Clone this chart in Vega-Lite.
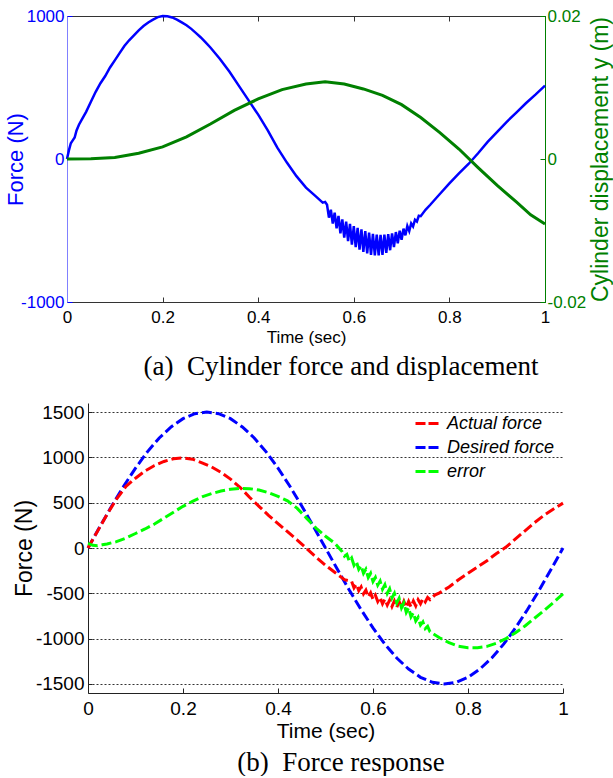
{
  "$schema": "https://vega.github.io/schema/vega-lite/v6.json",
  "background": "white",
  "padding": {"left": 4, "right": 0, "top": 6, "bottom": 0},
  "config": {"font": "Liberation Sans", "view": {"stroke": null}},
  "datasets": {
    "topForce": [
      {"t": 0, "F": 0}, {"t": 0.004, "F": 60}, {"t": 0.008, "F": 110}, {"t": 0.012, "F": 130}, {"t": 0.016, "F": 150},
      {"t": 0.02, "F": 200}, {"t": 0.025, "F": 240}, {"t": 0.03, "F": 270}, {"t": 0.04, "F": 330}, {"t": 0.05, "F": 400},
      {"t": 0.06, "F": 470}, {"t": 0.07, "F": 530}, {"t": 0.08, "F": 580}, {"t": 0.09, "F": 640}, {"t": 0.1, "F": 690},
      {"t": 0.11, "F": 740}, {"t": 0.12, "F": 790}, {"t": 0.13, "F": 830}, {"t": 0.14, "F": 865}, {"t": 0.15, "F": 900},
      {"t": 0.16, "F": 930}, {"t": 0.17, "F": 955}, {"t": 0.18, "F": 975}, {"t": 0.19, "F": 992}, {"t": 0.2, "F": 1000},
      {"t": 0.21, "F": 998}, {"t": 0.22, "F": 990}, {"t": 0.23, "F": 975}, {"t": 0.24, "F": 955}, {"t": 0.25, "F": 935},
      {"t": 0.26, "F": 910}, {"t": 0.27, "F": 880}, {"t": 0.28, "F": 850}, {"t": 0.29, "F": 815}, {"t": 0.3, "F": 780},
      {"t": 0.32, "F": 700}, {"t": 0.34, "F": 610}, {"t": 0.36, "F": 510}, {"t": 0.38, "F": 410}, {"t": 0.4, "F": 310},
      {"t": 0.42, "F": 200}, {"t": 0.44, "F": 80}, {"t": 0.46, "F": -25}, {"t": 0.48, "F": -120}, {"t": 0.5, "F": -200},
      {"t": 0.52, "F": -260}, {"t": 0.535, "F": -305}, {"t": 0.54, "F": -300},
      {"t": 0.544, "F": -320}, {"t": 0.548, "F": -410}, {"t": 0.552, "F": -355}, {"t": 0.556, "F": -452}, {"t": 0.56, "F": -375},
      {"t": 0.564, "F": -485}, {"t": 0.568, "F": -398}, {"t": 0.572, "F": -520}, {"t": 0.576, "F": -422}, {"t": 0.58, "F": -550},
      {"t": 0.584, "F": -438}, {"t": 0.588, "F": -574}, {"t": 0.592, "F": -454}, {"t": 0.596, "F": -598}, {"t": 0.6, "F": -470},
      {"t": 0.604, "F": -617}, {"t": 0.608, "F": -481}, {"t": 0.612, "F": -633}, {"t": 0.616, "F": -492}, {"t": 0.62, "F": -650},
      {"t": 0.624, "F": -505}, {"t": 0.628, "F": -660}, {"t": 0.632, "F": -515}, {"t": 0.636, "F": -670}, {"t": 0.64, "F": -523},
      {"t": 0.644, "F": -674}, {"t": 0.648, "F": -528}, {"t": 0.652, "F": -674}, {"t": 0.656, "F": -530}, {"t": 0.66, "F": -670},
      {"t": 0.664, "F": -529}, {"t": 0.668, "F": -656}, {"t": 0.672, "F": -526}, {"t": 0.676, "F": -638}, {"t": 0.68, "F": -520},
      {"t": 0.684, "F": -616}, {"t": 0.688, "F": -511}, {"t": 0.692, "F": -590}, {"t": 0.696, "F": -501}, {"t": 0.7, "F": -565},
      {"t": 0.704, "F": -487}, {"t": 0.708, "F": -534}, {"t": 0.712, "F": -469}, {"t": 0.716, "F": -504}, {"t": 0.72, "F": -450},
      {"t": 0.724, "F": -472}, {"t": 0.728, "F": -425}, {"t": 0.732, "F": -437}, {"t": 0.736, "F": -397}, {"t": 0.74, "F": -400},
      {"t": 0.75, "F": -355}, {"t": 0.76, "F": -320}, {"t": 0.78, "F": -245}, {"t": 0.8, "F": -170}, {"t": 0.82, "F": -100},
      {"t": 0.84, "F": -35}, {"t": 0.86, "F": 40}, {"t": 0.88, "F": 120}, {"t": 0.9, "F": 190}, {"t": 0.92, "F": 260},
      {"t": 0.94, "F": 325}, {"t": 0.96, "F": 390}, {"t": 0.98, "F": 450}, {"t": 1.0, "F": 513}
    ],
    "topDisp": [
      {"t": 0, "y": 0}, {"t": 0.05, "y": 0.00003}, {"t": 0.1, "y": 0.0002}, {"t": 0.15, "y": 0.0008}, {"t": 0.2, "y": 0.0017},
      {"t": 0.25, "y": 0.0031}, {"t": 0.3, "y": 0.0049}, {"t": 0.35, "y": 0.0068}, {"t": 0.4, "y": 0.0084}, {"t": 0.45, "y": 0.0097},
      {"t": 0.5, "y": 0.0105}, {"t": 0.54, "y": 0.0108}, {"t": 0.58, "y": 0.0105}, {"t": 0.62, "y": 0.0098}, {"t": 0.66, "y": 0.0089},
      {"t": 0.7, "y": 0.0076}, {"t": 0.74, "y": 0.0058}, {"t": 0.78, "y": 0.0037}, {"t": 0.82, "y": 0.0014}, {"t": 0.86, "y": -0.0012},
      {"t": 0.9, "y": -0.0037}, {"t": 0.94, "y": -0.006}, {"t": 0.97, "y": -0.0078}, {"t": 1.0, "y": -0.0091}
    ],
    "bottom": [
      {"s": "Desired force", "t": 0, "v": 0}, {"s": "Desired force", "t": 0.025, "v": 235}, {"s": "Desired force", "t": 0.05, "v": 464},
      {"s": "Desired force", "t": 0.075, "v": 681}, {"s": "Desired force", "t": 0.1, "v": 882}, {"s": "Desired force", "t": 0.125, "v": 1061},
      {"s": "Desired force", "t": 0.15, "v": 1214}, {"s": "Desired force", "t": 0.175, "v": 1336}, {"s": "Desired force", "t": 0.2, "v": 1427},
      {"s": "Desired force", "t": 0.225, "v": 1482}, {"s": "Desired force", "t": 0.25, "v": 1500}, {"s": "Desired force", "t": 0.275, "v": 1482},
      {"s": "Desired force", "t": 0.3, "v": 1427}, {"s": "Desired force", "t": 0.325, "v": 1336}, {"s": "Desired force", "t": 0.35, "v": 1214},
      {"s": "Desired force", "t": 0.375, "v": 1061}, {"s": "Desired force", "t": 0.4, "v": 882}, {"s": "Desired force", "t": 0.425, "v": 681},
      {"s": "Desired force", "t": 0.45, "v": 464}, {"s": "Desired force", "t": 0.475, "v": 235}, {"s": "Desired force", "t": 0.5, "v": 0},
      {"s": "Desired force", "t": 0.525, "v": -235}, {"s": "Desired force", "t": 0.55, "v": -464}, {"s": "Desired force", "t": 0.575, "v": -681},
      {"s": "Desired force", "t": 0.6, "v": -882}, {"s": "Desired force", "t": 0.625, "v": -1061}, {"s": "Desired force", "t": 0.65, "v": -1214},
      {"s": "Desired force", "t": 0.675, "v": -1336}, {"s": "Desired force", "t": 0.7, "v": -1427}, {"s": "Desired force", "t": 0.725, "v": -1482},
      {"s": "Desired force", "t": 0.75, "v": -1500}, {"s": "Desired force", "t": 0.775, "v": -1482}, {"s": "Desired force", "t": 0.8, "v": -1427},
      {"s": "Desired force", "t": 0.825, "v": -1336}, {"s": "Desired force", "t": 0.85, "v": -1214}, {"s": "Desired force", "t": 0.875, "v": -1061},
      {"s": "Desired force", "t": 0.9, "v": -882}, {"s": "Desired force", "t": 0.925, "v": -681}, {"s": "Desired force", "t": 0.95, "v": -464},
      {"s": "Desired force", "t": 0.975, "v": -235}, {"s": "Desired force", "t": 1.0, "v": 0},

      {"s": "Actual force", "t": 0, "v": 0}, {"s": "Actual force", "t": 0.02, "v": 185}, {"s": "Actual force", "t": 0.04, "v": 370},
      {"s": "Actual force", "t": 0.06, "v": 540}, {"s": "Actual force", "t": 0.08, "v": 680}, {"s": "Actual force", "t": 0.1, "v": 770},
      {"s": "Actual force", "t": 0.12, "v": 850}, {"s": "Actual force", "t": 0.14, "v": 910}, {"s": "Actual force", "t": 0.16, "v": 955},
      {"s": "Actual force", "t": 0.18, "v": 985}, {"s": "Actual force", "t": 0.2, "v": 995}, {"s": "Actual force", "t": 0.22, "v": 980},
      {"s": "Actual force", "t": 0.24, "v": 940}, {"s": "Actual force", "t": 0.26, "v": 895}, {"s": "Actual force", "t": 0.28, "v": 835},
      {"s": "Actual force", "t": 0.3, "v": 760}, {"s": "Actual force", "t": 0.32, "v": 670}, {"s": "Actual force", "t": 0.34, "v": 560},
      {"s": "Actual force", "t": 0.36, "v": 460}, {"s": "Actual force", "t": 0.38, "v": 360}, {"s": "Actual force", "t": 0.4, "v": 270},
      {"s": "Actual force", "t": 0.42, "v": 180}, {"s": "Actual force", "t": 0.44, "v": 90}, {"s": "Actual force", "t": 0.46, "v": -5},
      {"s": "Actual force", "t": 0.48, "v": -100}, {"s": "Actual force", "t": 0.5, "v": -190}, {"s": "Actual force", "t": 0.52, "v": -270},
      {"s": "Actual force", "t": 0.54, "v": -350}, {"s": "Actual force", "t": 0.555, "v": -370}, {"s": "Actual force", "t": 0.56, "v": -440},
      {"s": "Actual force", "t": 0.565, "v": -400}, {"s": "Actual force", "t": 0.57, "v": -470}, {"s": "Actual force", "t": 0.575, "v": -430},
      {"s": "Actual force", "t": 0.58, "v": -505}, {"s": "Actual force", "t": 0.585, "v": -465}, {"s": "Actual force", "t": 0.59, "v": -540},
      {"s": "Actual force", "t": 0.595, "v": -495}, {"s": "Actual force", "t": 0.6, "v": -565}, {"s": "Actual force", "t": 0.605, "v": -520},
      {"s": "Actual force", "t": 0.61, "v": -590}, {"s": "Actual force", "t": 0.615, "v": -545}, {"s": "Actual force", "t": 0.62, "v": -615},
      {"s": "Actual force", "t": 0.625, "v": -565}, {"s": "Actual force", "t": 0.63, "v": -630}, {"s": "Actual force", "t": 0.635, "v": -575},
      {"s": "Actual force", "t": 0.64, "v": -645}, {"s": "Actual force", "t": 0.645, "v": -585}, {"s": "Actual force", "t": 0.65, "v": -655},
      {"s": "Actual force", "t": 0.655, "v": -590}, {"s": "Actual force", "t": 0.66, "v": -660}, {"s": "Actual force", "t": 0.665, "v": -590},
      {"s": "Actual force", "t": 0.67, "v": -655}, {"s": "Actual force", "t": 0.675, "v": -590}, {"s": "Actual force", "t": 0.68, "v": -650},
      {"s": "Actual force", "t": 0.685, "v": -585}, {"s": "Actual force", "t": 0.69, "v": -640}, {"s": "Actual force", "t": 0.695, "v": -570},
      {"s": "Actual force", "t": 0.7, "v": -615}, {"s": "Actual force", "t": 0.705, "v": -560}, {"s": "Actual force", "t": 0.71, "v": -595},
      {"s": "Actual force", "t": 0.715, "v": -545}, {"s": "Actual force", "t": 0.72, "v": -570}, {"s": "Actual force", "t": 0.73, "v": -520},
      {"s": "Actual force", "t": 0.74, "v": -495}, {"s": "Actual force", "t": 0.76, "v": -430}, {"s": "Actual force", "t": 0.78, "v": -350},
      {"s": "Actual force", "t": 0.8, "v": -280}, {"s": "Actual force", "t": 0.82, "v": -210}, {"s": "Actual force", "t": 0.84, "v": -140},
      {"s": "Actual force", "t": 0.86, "v": -60}, {"s": "Actual force", "t": 0.88, "v": 10}, {"s": "Actual force", "t": 0.9, "v": 100},
      {"s": "Actual force", "t": 0.92, "v": 190}, {"s": "Actual force", "t": 0.94, "v": 280}, {"s": "Actual force", "t": 0.96, "v": 360},
      {"s": "Actual force", "t": 0.98, "v": 430}, {"s": "Actual force", "t": 1.0, "v": 495},

      {"s": "error", "t": 0, "v": 50}, {"s": "error", "t": 0.01, "v": 30}, {"s": "error", "t": 0.02, "v": 25}, {"s": "error", "t": 0.03, "v": 35},
      {"s": "error", "t": 0.04, "v": 45}, {"s": "error", "t": 0.06, "v": 70}, {"s": "error", "t": 0.08, "v": 110}, {"s": "error", "t": 0.1, "v": 160},
      {"s": "error", "t": 0.12, "v": 210}, {"s": "error", "t": 0.14, "v": 265}, {"s": "error", "t": 0.16, "v": 330}, {"s": "error", "t": 0.18, "v": 395},
      {"s": "error", "t": 0.2, "v": 460}, {"s": "error", "t": 0.22, "v": 515}, {"s": "error", "t": 0.24, "v": 565}, {"s": "error", "t": 0.26, "v": 600},
      {"s": "error", "t": 0.28, "v": 628}, {"s": "error", "t": 0.3, "v": 648}, {"s": "error", "t": 0.32, "v": 658}, {"s": "error", "t": 0.34, "v": 655},
      {"s": "error", "t": 0.36, "v": 640}, {"s": "error", "t": 0.38, "v": 610}, {"s": "error", "t": 0.4, "v": 570}, {"s": "error", "t": 0.42, "v": 520},
      {"s": "error", "t": 0.44, "v": 440}, {"s": "error", "t": 0.46, "v": 330}, {"s": "error", "t": 0.48, "v": 220}, {"s": "error", "t": 0.5, "v": 130},
      {"s": "error", "t": 0.52, "v": 50}, {"s": "error", "t": 0.535, "v": -40}, {"s": "error", "t": 0.54, "v": -90}, {"s": "error", "t": 0.545, "v": -70},
      {"s": "error", "t": 0.55, "v": -145}, {"s": "error", "t": 0.555, "v": -110}, {"s": "error", "t": 0.56, "v": -190}, {"s": "error", "t": 0.565, "v": -150},
      {"s": "error", "t": 0.57, "v": -235}, {"s": "error", "t": 0.575, "v": -195}, {"s": "error", "t": 0.58, "v": -280}, {"s": "error", "t": 0.585, "v": -235},
      {"s": "error", "t": 0.59, "v": -325}, {"s": "error", "t": 0.595, "v": -280}, {"s": "error", "t": 0.6, "v": -370}, {"s": "error", "t": 0.605, "v": -325},
      {"s": "error", "t": 0.61, "v": -410}, {"s": "error", "t": 0.615, "v": -365}, {"s": "error", "t": 0.62, "v": -455}, {"s": "error", "t": 0.625, "v": -405},
      {"s": "error", "t": 0.63, "v": -500}, {"s": "error", "t": 0.635, "v": -450}, {"s": "error", "t": 0.64, "v": -550}, {"s": "error", "t": 0.645, "v": -500},
      {"s": "error", "t": 0.65, "v": -605}, {"s": "error", "t": 0.655, "v": -555}, {"s": "error", "t": 0.66, "v": -660}, {"s": "error", "t": 0.665, "v": -605},
      {"s": "error", "t": 0.67, "v": -710}, {"s": "error", "t": 0.675, "v": -660}, {"s": "error", "t": 0.68, "v": -760}, {"s": "error", "t": 0.685, "v": -715},
      {"s": "error", "t": 0.69, "v": -805}, {"s": "error", "t": 0.695, "v": -765}, {"s": "error", "t": 0.7, "v": -850}, {"s": "error", "t": 0.705, "v": -815},
      {"s": "error", "t": 0.71, "v": -890}, {"s": "error", "t": 0.715, "v": -865}, {"s": "error", "t": 0.72, "v": -925}, {"s": "error", "t": 0.74, "v": -990},
      {"s": "error", "t": 0.76, "v": -1045}, {"s": "error", "t": 0.78, "v": -1085}, {"s": "error", "t": 0.8, "v": -1100}, {"s": "error", "t": 0.82, "v": -1100},
      {"s": "error", "t": 0.84, "v": -1085}, {"s": "error", "t": 0.86, "v": -1050}, {"s": "error", "t": 0.88, "v": -1000}, {"s": "error", "t": 0.9, "v": -935},
      {"s": "error", "t": 0.92, "v": -860}, {"s": "error", "t": 0.94, "v": -775}, {"s": "error", "t": 0.96, "v": -690}, {"s": "error", "t": 0.98, "v": -600},
      {"s": "error", "t": 1.0, "v": -505}
    ]
  },
  "vconcat": [
    {
      "width": 478,
      "height": 286,
      "view": {"stroke": "#333333", "strokeWidth": 1},
      "title": {
        "text": "(a)\u00a0\u00a0Cylinder force and displacement",
        "orient": "bottom",
        "anchor": "middle",
        "dx": 35,
        "offset": 9,
        "font": "Liberation Serif",
        "fontSize": 27,
        "fontWeight": "normal",
        "color": "black"
      },
      "layer": [
        {
          "data": {"name": "topForce"},
          "mark": {"type": "line", "color": "#0000ff", "strokeWidth": 2.5},
          "encoding": {
            "x": {
              "field": "t", "type": "quantitative",
              "scale": {"domain": [0, 1], "nice": false},
              "axis": {
                "orient": "bottom", "values": [0, 0.2, 0.4, 0.6, 0.8, 1], "format": "~g",
                "title": "Time (sec)", "titleFontSize": 17, "titleFontWeight": "normal", "titlePadding": 4,
                "labelFontSize": 17, "labelColor": "black", "labelPadding": 12, "tickSize": -5,
                "tickColor": "#333333", "domainColor": "#333333", "grid": false, "labelFlush": false
              }
            },
            "y": {
              "field": "F", "type": "quantitative",
              "scale": {"domain": [-1000, 1000], "nice": false},
              "axis": {
                "orient": "left", "values": [-1000, 0, 1000],
                "labelExpr": "datum.value < 0 ? '-' + format(-datum.value, '~g') : format(datum.value, '~g')",
                "title": "Force (N)", "titleColor": "#0000ff", "titleFontSize": 22, "titleFontWeight": "normal", "titlePadding": -7,
                "labelColor": "#0000ff", "labelFontSize": 17, "labelPadding": 8, "tickSize": -5, "tickColor": "#0000ff",
                "domainColor": "#8080ff", "grid": false, "labelFlush": false
              }
            }
          }
        },
        {
          "data": {"name": "topDisp"},
          "mark": {"type": "line", "color": "#008000", "strokeWidth": 3},
          "encoding": {
            "x": {
              "field": "t", "type": "quantitative",
              "axis": {"orient": "top", "values": [0, 0.2, 0.4, 0.6, 0.8, 1], "labels": false, "title": null, "tickSize": -5, "tickColor": "#333333", "domainColor": "#333333", "grid": false}
            },
            "y": {
              "field": "y", "type": "quantitative",
              "scale": {"domain": [-0.02, 0.02], "nice": false},
              "axis": {
                "orient": "right", "values": [-0.02, 0, 0.02],
                "labelExpr": "datum.value < 0 ? '-' + format(-datum.value, '~g') : format(datum.value, '~g')",
                "title": "Cylinder displacement y (m)", "titleColor": "#008000", "titleFontSize": 23, "titleFontWeight": "normal",
                "titleAngle": 270, "titleBaseline": "top", "titlePadding": 4,
                "labelColor": "#008000", "labelFontSize": 17, "labelPadding": 7, "tickSize": -5, "tickColor": "#008000",
                "domainColor": "#008000", "grid": false, "labelFlush": false
              }
            }
          }
        }
      ],
      "resolve": {"scale": {"y": "independent"}, "axis": {"x": "independent"}}
    },
    {
      "width": 496,
      "height": 290,
      "title": {
        "text": "(b)\u00a0\u00a0Force response",
        "orient": "bottom",
        "anchor": "middle",
        "dx": 26,
        "offset": 9,
        "font": "Liberation Serif",
        "fontSize": 27,
        "fontWeight": "normal",
        "color": "black"
      },
      "data": {"name": "bottom"},
      "mark": {"type": "line", "strokeWidth": 3, "strokeDash": [10, 4]},
      "encoding": {
        "x": {
          "field": "t", "type": "quantitative",
          "scale": {"domain": [0, 1], "nice": false, "range": [21, 496]},
          "axis": {
            "values": [0, 0.2, 0.4, 0.6, 0.8, 1], "format": "~g",
            "title": "Time (sec)", "titleFontSize": 21, "titleFontWeight": "normal", "titlePadding": 2,
            "labelFontSize": 19, "labelColor": "black", "labelPadding": 11, "tickSize": -5,
            "tickColor": "#222222", "domainColor": "#222222", "grid": false, "labelFlush": false
          }
        },
        "y": {
          "field": "v", "type": "quantitative",
          "scale": {"domain": [-1600, 1600], "nice": false},
          "axis": {
            "offset": -21,
            "values": [-1500, -1000, -500, 0, 500, 1000, 1500],
            "labelExpr": "datum.value < 0 ? '-' + format(-datum.value, '~g') : format(datum.value, '~g')",
            "title": "Force (N)", "titleFontSize": 23, "titleFontWeight": "normal", "titlePadding": -1,
            "labelFontSize": 19, "labelColor": "black", "labelPadding": 8, "tickSize": -4,
            "tickColor": "#222222", "domainColor": "#222222",
            "grid": true, "gridDash": [2, 2], "gridColor": "#333333", "gridWidth": 1, "labelFlush": false
          }
        },
        "color": {
          "field": "s", "type": "nominal",
          "scale": {"domain": ["Actual force", "Desired force", "error"], "range": ["#ff0000", "#0000ff", "#00ff00"]},
          "legend": {
            "title": null, "orient": "none", "legendX": 347, "legendY": 394,
            "symbolType": "stroke", "symbolStrokeWidth": 3, "symbolDash": [10, 3], "symbolSize": 576,
            "labelFont": "Liberation Sans", "labelFontStyle": "italic", "labelFontSize": 18, "labelColor": "black",
            "labelOffset": 6, "rowPadding": 1
          }
        }
      }
    }
  ],
  "spacing": 22
}
